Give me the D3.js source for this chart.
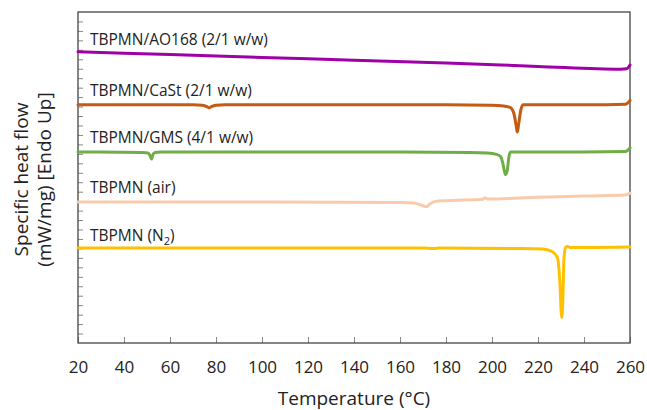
<!DOCTYPE html>
<html>
<head>
<meta charset="utf-8">
<script src="https://cdn.jsdelivr.net/npm/d3@7"></script>
<style>
  body { margin: 0; background: #fff; }
  svg text { font-family: "Open Sans", sans-serif; fill: #222; }
</style>
</head>
<body>
<div id="chart"></div>
<script>
// DSC traces, offset vertically (values in stacked units)
const ao168T = [20, 60, 100, 140, 180, 220, 256, 258.5, 260];
const ao168V = [30.8, 30.5, 30.2, 29.9, 29.6, 29.25, 28.95, 29.0, 29.4];

const castT = [20, 70, 74, 76, 77, 78, 80, 84, 120, 180, 200, 205, 208, 209.5, 210.5, 211, 211.5, 212.5, 213.5, 220, 250, 258, 260];
const castV = [25.2, 25.2, 25.15, 25.0, 24.85, 25.0, 25.15, 25.2, 25.2, 25.2, 25.15, 25.05, 24.9, 24.3, 23.0, 22.3, 23.0, 24.6, 25.2, 25.2, 25.2, 25.25, 25.65];

const gmsT = [20, 48, 50.5, 51.5, 52, 52.5, 53.5, 56, 100, 150, 190, 198, 202, 203.8, 204.8, 205.8, 206.6, 207.3, 208, 212, 240, 258, 260];
const gmsV = [20.2, 20.15, 20.1, 19.7, 19.45, 19.9, 20.15, 20.2, 20.2, 20.2, 20.15, 20.1, 19.95, 19.7, 18.9, 17.8, 18.2, 19.6, 20.2, 20.2, 20.2, 20.25, 20.65];

const airT = [20, 100, 160, 166, 169, 171.5, 173, 175, 180, 196, 197, 198, 220, 240, 258, 260];
const airV = [14.92, 14.9, 14.85, 14.8, 14.6, 14.4, 14.7, 14.95, 15.05, 15.2, 15.35, 15.22, 15.4, 15.55, 15.65, 15.85];

const n2T = [20, 120, 170, 175, 177, 210, 222, 226, 228.5, 229.5, 230.3, 230.8, 231.3, 232, 233, 234, 240, 260];
const n2V = [10.05, 10.05, 10.05, 9.98, 10.05, 10.0, 9.95, 9.7, 9.0, 6.5, 2.7, 4.5, 9.0, 10.1, 10.2, 10.1, 10.1, 10.15];

const seriesNames = ["TBPMN/AO168 (2/1 w/w)", "TBPMN/CaSt (2/1 w/w)", "TBPMN/GMS (4/1 w/w)", "TBPMN (air)", "TBPMN (N2)"];
const seriesColors = ["#a000a8", "#c55a11", "#70ad47", "#f8cbad", "#ffc000"];
const labelValues = [31.5, 26.1, 21.2, 15.9, 10.8];

const xTicks = [20, 40, 60, 80, 100, 120, 140, 160, 180, 200, 220, 240, 260];

const series = [
  [ao168T, ao168V], [castT, castV], [gmsT, gmsV], [airT, airV], [n2T, n2V]
].map(([t, v], i) => ({
  name: seriesNames[i],
  color: seriesColors[i],
  label: labelValues[i],
  points: t.map((d, j) => ({ t: d, v: v[j] }))
}));

const width = 647, height = 410;
const margin = { top: 12, right: 17, bottom: 67, left: 78 };
const innerW = width - margin.left - margin.right;
const innerH = height - margin.top - margin.bottom;

const svg = d3.select("#chart").append("svg")
  .attr("width", width)
  .attr("height", height);

const g = svg.append("g")
  .attr("transform", "translate(" + margin.left + "," + margin.top + ")");

const x = d3.scaleLinear().domain([20, 260]).range([0, innerW]);
const y = d3.scaleLinear().domain([0, 35]).range([innerH, 0]);

// y axis: minor ticks only, no labels
g.append("g")
  .attr("class", "y-axis")
  .call(d3.axisLeft(y).tickValues(d3.range(1, 35, 1)).tickSize(-5).tickFormat(""))
  .call(a => a.select(".domain").remove())
  .selectAll("line").attr("stroke", "#888").attr("stroke-width", 1);

// x axis: ticks point up into the plot
const xAxis = g.append("g")
  .attr("transform", "translate(0," + innerH + ")")
  .call(d3.axisBottom(x).tickValues(xTicks).tickSize(-6).tickPadding(18))
  .call(a => a.select(".domain").remove());
xAxis.selectAll("line").attr("stroke", "#888");
xAxis.selectAll("text")
  .attr("font-size", 17)
  .attr("fill", "#222")
  .style("font-family", "'Open Sans', sans-serif");

// frame
g.append("rect")
  .attr("width", innerW)
  .attr("height", innerH)
  .attr("fill", "none")
  .attr("stroke", "#444")
  .attr("stroke-width", 1.3);

const line = d3.line()
  .x(d => x(d.t))
  .y(d => y(d.v))
  .curve(d3.curveMonotoneX);

g.selectAll(".trace")
  .data(series)
  .enter().append("path")
  .attr("class", "trace")
  .attr("d", d => line(d.points))
  .attr("fill", "none")
  .attr("stroke", d => d.color)
  .attr("stroke-width", 3)
  .attr("stroke-linejoin", "round")
  .attr("stroke-linecap", "round");

// series labels
const labels = g.selectAll(".label")
  .data(series)
  .enter().append("text")
  .attr("class", "label")
  .attr("x", 12)
  .attr("y", d => y(d.label))
  .attr("font-size", 15.5);

labels.each(function(d) {
  const t = d3.select(this);
  if (d.name === "TBPMN (N2)") {
    t.append("tspan").text("TBPMN (N");
    t.append("tspan").text("2").attr("font-size", 11).attr("dy", 4);
    t.append("tspan").text(")").attr("dy", -4);
  } else {
    t.text(d.name);
  }
});

// axis titles
svg.append("text")
  .attr("x", margin.left + innerW / 2)
  .attr("y", 405)
  .attr("text-anchor", "middle")
  .attr("font-size", 19)
  .text("Temperature (°C)");

const yTitle = svg.append("text")
  .attr("transform", "translate(28," + (margin.top + innerH / 2 + 2) + ") rotate(-90)")
  .attr("text-anchor", "middle")
  .attr("font-size", 19);
yTitle.append("tspan").attr("x", 0).attr("dy", 0).text("Specific heat flow");
yTitle.append("tspan").attr("x", 0).attr("dy", 23).text("(mW/mg) [Endo Up]");
</script>
</body>
</html>
